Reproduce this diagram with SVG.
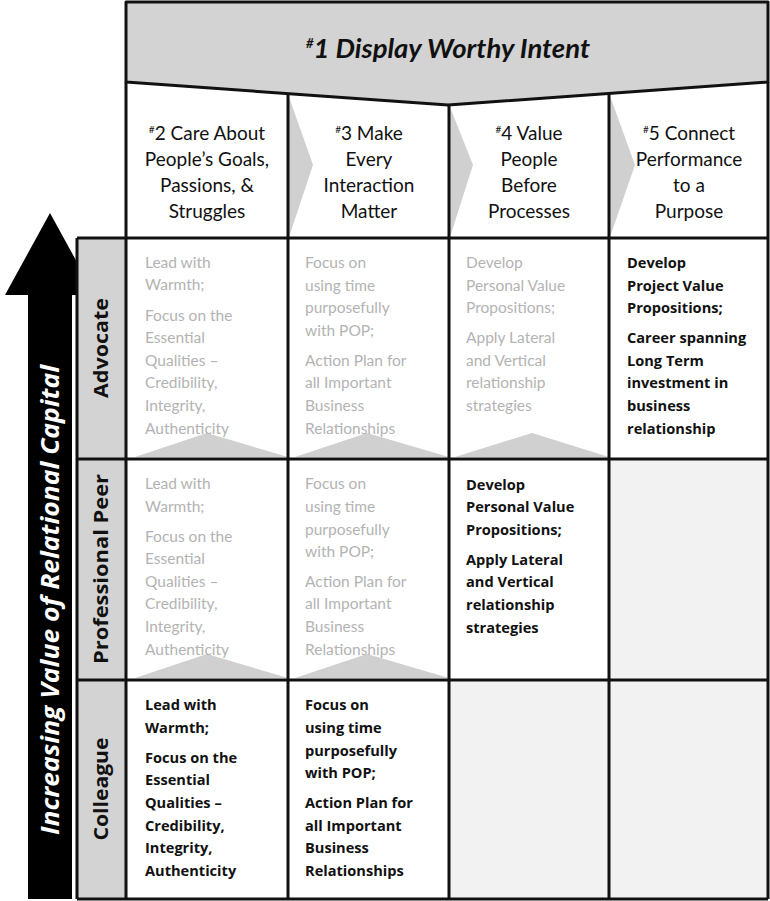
<svg xmlns="http://www.w3.org/2000/svg" width="770" height="901" viewBox="0 0 770 901">
<style>
.ln{stroke:#111;stroke-width:3;fill:none}
.hd{font-family:Lato,"Open Sans",sans-serif;font-size:19px;fill:#111;text-anchor:middle}
.sup{font-size:10px}
.g{font-family:Lato,"Open Sans",sans-serif;font-size:15.5px;fill:#b3b3b3}
.b{font-family:"Open Sans",Lato,sans-serif;font-size:14.6px;font-weight:bold;fill:#111}
.rl{font-family:"Open Sans",Lato,sans-serif;font-size:19px;font-weight:bold;fill:#111;text-anchor:middle}
.tri{fill:#d0d0d0}
.empty{fill:#f2f2f2}
</style>
<rect width="770" height="901" fill="#fff"/>
<g id="arrow">
<polygon points="28,899 72,899 72,295 95,295 50,213 5,295 28,295" fill="#000"/>
<text transform="translate(59,600) rotate(-90)" font-family="'Open Sans',Lato,sans-serif" font-size="25" font-weight="bold" font-style="italic" fill="#fff" text-anchor="middle" textLength="470" lengthAdjust="spacingAndGlyphs">Increasing Value of Relational Capital</text>
</g>
<g id="empty-cells">
<rect class="empty" x="609" y="459" width="159" height="221"/>
<rect class="empty" x="449" y="680" width="160" height="219"/>
<rect class="empty" x="609" y="680" width="159" height="219"/>
</g>
<g id="row-headers">
<rect x="77" y="238" width="49" height="661" fill="#d3d3d3"/>
<text class="rl" transform="translate(108,348) rotate(-90)" textLength="100" lengthAdjust="spacingAndGlyphs">Advocate</text>
<text class="rl" transform="translate(108,569) rotate(-90)" textLength="190" lengthAdjust="spacingAndGlyphs">Professional Peer</text>
<text class="rl" transform="translate(108,789) rotate(-90)" textLength="103" lengthAdjust="spacingAndGlyphs">Colleague</text>
</g>
<g id="chevrons">
<polygon class="tri" points="289,97 313,165 289,237"/>
<polygon class="tri" points="450,107 473,165 450,237"/>
<polygon class="tri" points="610,96 635,165 610,237"/>
<polygon class="tri" points="135,457 207,433 288,457"/>
<polygon class="tri" points="295,457 367,433 449,457"/>
<polygon class="tri" points="455,457 532,433 609,457"/>
<polygon class="tri" points="135,678 207,654 288,678"/>
<polygon class="tri" points="295,678 367,654 449,678"/>
</g>
<g id="header">
<polygon points="126,2 768,2 768,82 448,105 126,82" fill="#d3d3d3" stroke="#111" stroke-width="3" stroke-linejoin="round"/>
<text x="448" y="58" font-family="Lato,'Open Sans',sans-serif" font-size="27.5" font-weight="bold" font-style="italic" fill="#111" text-anchor="middle"><tspan font-size="13" dy="-10">#</tspan><tspan dy="10">1 Display Worthy Intent</tspan></text>
</g>
<g id="connectors">
<line class="ln" x1="126" y1="82" x2="126" y2="899"/>
<line class="ln" x1="288" y1="94" x2="288" y2="899"/>
<line class="ln" x1="449" y1="105" x2="449" y2="899"/>
<line class="ln" x1="609" y1="94" x2="609" y2="899"/>
<line class="ln" x1="768" y1="82" x2="768" y2="899"/>
<line class="ln" x1="77" y1="238" x2="768" y2="238"/>
<line class="ln" x1="77" y1="459" x2="768" y2="459"/>
<line class="ln" x1="77" y1="680" x2="768" y2="680"/>
<line class="ln" x1="77" y1="899" x2="768" y2="899"/>
<line class="ln" x1="77" y1="238" x2="77" y2="899"/>
</g>
<g id="col-headers">
<text class="hd"><tspan x="207" y="140"><tspan class="sup" dy="-7">#</tspan><tspan dy="7">2 Care About</tspan></tspan><tspan x="207" y="166">People’s Goals,</tspan><tspan x="207" y="192">Passions, &amp;</tspan><tspan x="207" y="218">Struggles</tspan></text>
<text class="hd"><tspan x="369" y="140"><tspan class="sup" dy="-7">#</tspan><tspan dy="7">3 Make</tspan></tspan><tspan x="369" y="166">Every</tspan><tspan x="369" y="192">Interaction</tspan><tspan x="369" y="218">Matter</tspan></text>
<text class="hd"><tspan x="529" y="140"><tspan class="sup" dy="-7">#</tspan><tspan dy="7">4 Value</tspan></tspan><tspan x="529" y="166">People</tspan><tspan x="529" y="192">Before</tspan><tspan x="529" y="218">Processes</tspan></text>
<text class="hd"><tspan x="689" y="140"><tspan class="sup" dy="-7">#</tspan><tspan dy="7">5 Connect</tspan></tspan><tspan x="689" y="166">Performance</tspan><tspan x="689" y="192">to a</tspan><tspan x="689" y="218">Purpose</tspan></text>
</g>
<g id="advocate-row">
<text class="g"><tspan x="145" y="268">Lead with</tspan><tspan x="145" y="290">Warmth;</tspan><tspan x="145" y="321">Focus on the</tspan><tspan x="145" y="343">Essential</tspan><tspan x="145" y="366">Qualities –</tspan><tspan x="145" y="388">Credibility,</tspan><tspan x="145" y="411">Integrity,</tspan><tspan x="145" y="434">Authenticity</tspan></text>
<text class="g"><tspan x="305" y="268">Focus on</tspan><tspan x="305" y="291">using time</tspan><tspan x="305" y="313">purposefully</tspan><tspan x="305" y="336">with POP;</tspan><tspan x="305" y="366">Action Plan for</tspan><tspan x="305" y="388">all Important</tspan><tspan x="305" y="411">Business</tspan><tspan x="305" y="434">Relationships</tspan></text>
<text class="g"><tspan x="466" y="268">Develop</tspan><tspan x="466" y="291">Personal Value</tspan><tspan x="466" y="313">Propositions;</tspan><tspan x="466" y="343">Apply Lateral</tspan><tspan x="466" y="366">and Vertical</tspan><tspan x="466" y="388">relationship</tspan><tspan x="466" y="411">strategies</tspan></text>
<text class="b"><tspan x="627" y="268">Develop</tspan><tspan x="627" y="291">Project Value</tspan><tspan x="627" y="313">Propositions;</tspan><tspan x="627" y="343">Career spanning</tspan><tspan x="627" y="366">Long Term</tspan><tspan x="627" y="388">investment in</tspan><tspan x="627" y="411">business</tspan><tspan x="627" y="434">relationship</tspan></text>
</g>
<g id="peer-row">
<text class="g"><tspan x="145" y="489">Lead with</tspan><tspan x="145" y="512">Warmth;</tspan><tspan x="145" y="542">Focus on the</tspan><tspan x="145" y="564">Essential</tspan><tspan x="145" y="587">Qualities –</tspan><tspan x="145" y="609">Credibility,</tspan><tspan x="145" y="632">Integrity,</tspan><tspan x="145" y="655">Authenticity</tspan></text>
<text class="g"><tspan x="305" y="489">Focus on</tspan><tspan x="305" y="512">using time</tspan><tspan x="305" y="535">purposefully</tspan><tspan x="305" y="557">with POP;</tspan><tspan x="305" y="587">Action Plan for</tspan><tspan x="305" y="609">all Important</tspan><tspan x="305" y="632">Business</tspan><tspan x="305" y="655">Relationships</tspan></text>
<text class="b"><tspan x="466" y="490">Develop</tspan><tspan x="466" y="512">Personal Value</tspan><tspan x="466" y="535">Propositions;</tspan><tspan x="466" y="565">Apply Lateral</tspan><tspan x="466" y="587">and Vertical</tspan><tspan x="466" y="610">relationship</tspan><tspan x="466" y="633">strategies</tspan></text>
</g>
<g id="colleague-row">
<text class="b"><tspan x="145" y="710">Lead with</tspan><tspan x="145" y="733">Warmth;</tspan><tspan x="145" y="763">Focus on the</tspan><tspan x="145" y="785">Essential</tspan><tspan x="145" y="808">Qualities –</tspan><tspan x="145" y="831">Credibility,</tspan><tspan x="145" y="853">Integrity,</tspan><tspan x="145" y="876">Authenticity</tspan></text>
<text class="b"><tspan x="305" y="710">Focus on</tspan><tspan x="305" y="733">using time</tspan><tspan x="305" y="756">purposefully</tspan><tspan x="305" y="778">with POP;</tspan><tspan x="305" y="808">Action Plan for</tspan><tspan x="305" y="831">all Important</tspan><tspan x="305" y="853">Business</tspan><tspan x="305" y="876">Relationships</tspan></text>
</g>
</svg>
